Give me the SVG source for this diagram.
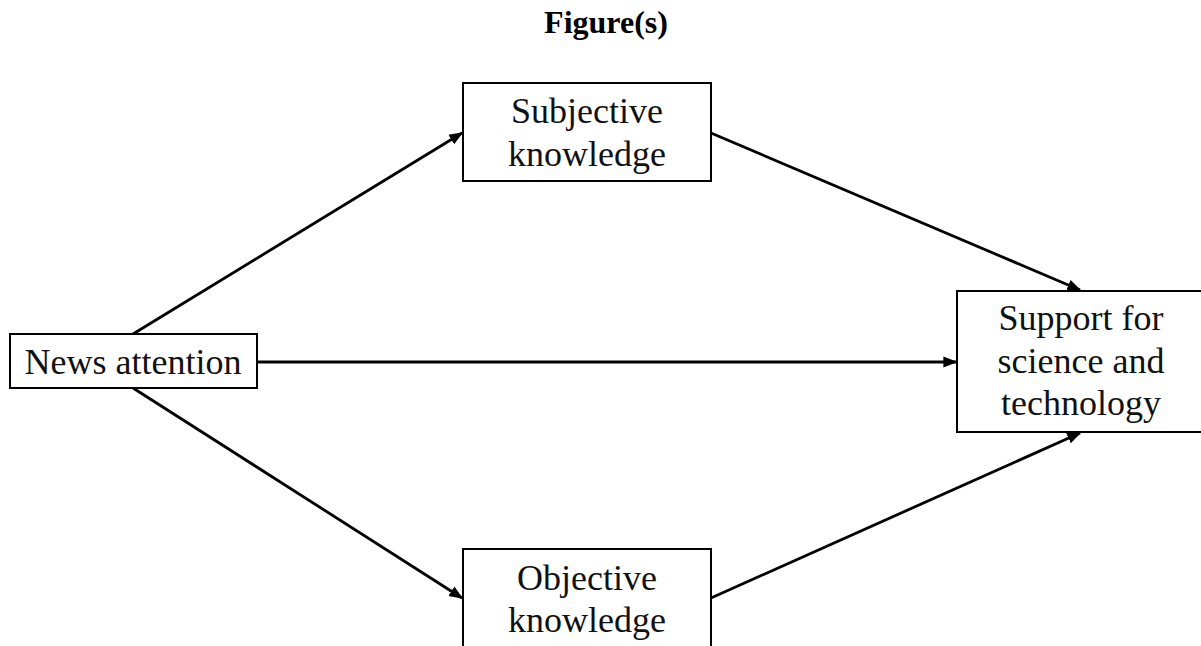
<svg xmlns="http://www.w3.org/2000/svg" width="1201" height="646" viewBox="0 0 1201 646">
<defs>
<style>
.box{fill:#fff;stroke:#000;stroke-width:2}
.lbl{font-family:"Liberation Serif","Times New Roman",serif;font-size:36px;fill:#111;text-anchor:middle}
.title{font-family:"Liberation Serif","Times New Roman",serif;font-size:32px;font-weight:bold;fill:#000;text-anchor:middle}
.edge{stroke:#000;stroke-width:2.8;fill:none;marker-end:url(#arr)}
</style>
<marker id="arr" viewBox="0 0 10 10" refX="9" refY="5" markerWidth="5" markerHeight="5" markerUnits="strokeWidth" orient="auto">
<path d="M0,1 L10,5 L0,9 z" fill="#000"/>
</marker>
</defs>
<rect width="1201" height="646" fill="#fff"/>
<text class="title" x="606" y="33">Figure(s)</text>
<g id="connectors">
<line class="edge" x1="133" y1="334" x2="462" y2="133"/>
<line class="edge" x1="711" y1="133" x2="1080" y2="290"/>
<line class="edge" x1="257" y1="362" x2="956" y2="362"/>
<line class="edge" x1="133" y1="388" x2="462" y2="598"/>
<line class="edge" x1="711" y1="598" x2="1080" y2="433"/>
</g>
<g id="news">
<rect class="box" x="10" y="334" width="247" height="54"/>
<text class="lbl" x="133" y="374">News attention</text>
</g>
<g id="subjective">
<rect class="box" x="463" y="83" width="248" height="98"/>
<text class="lbl" x="587" y="123">Subjective</text>
<text class="lbl" x="587" y="166">knowledge</text>
</g>
<g id="support">
<rect class="box" x="957" y="291" width="250" height="141"/>
<text class="lbl" x="1081" y="330">Support for</text>
<text class="lbl" x="1081" y="373">science and</text>
<text class="lbl" x="1081" y="415">technology</text>
</g>
<g id="objective">
<rect class="box" x="463" y="549" width="248" height="110"/>
<text class="lbl" x="587" y="590">Objective</text>
<text class="lbl" x="587" y="632">knowledge</text>
</g>
</svg>
